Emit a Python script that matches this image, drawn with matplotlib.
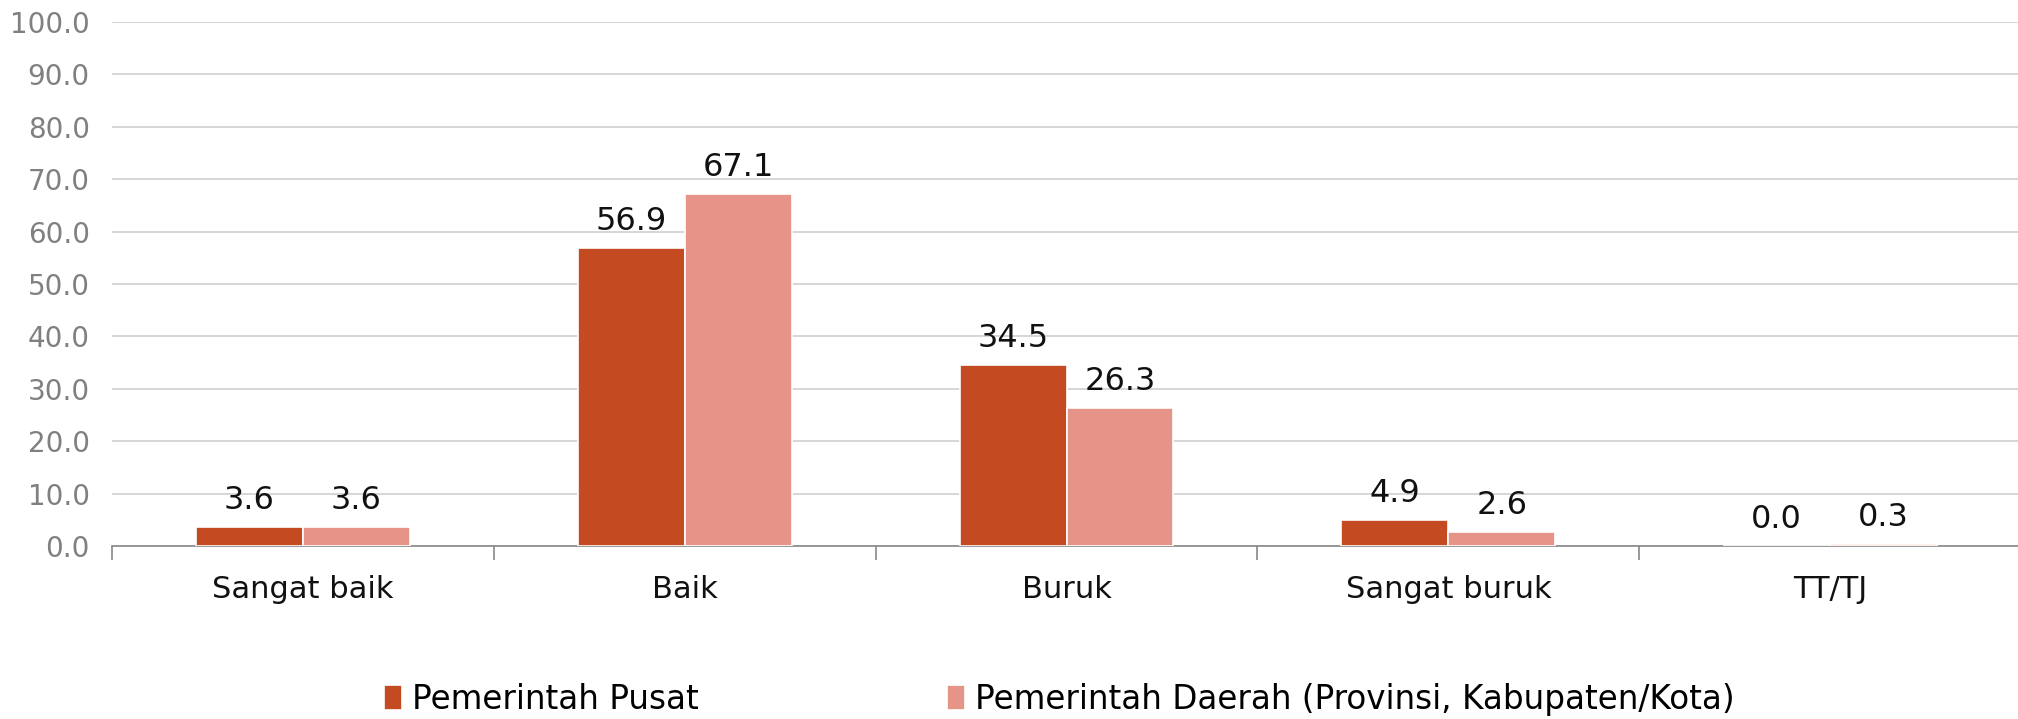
import matplotlib
matplotlib.use("Agg")
import matplotlib.pyplot as plt
import numpy as np

categories = ["Sangat baik", "Baik", "Buruk", "Sangat buruk", "TT/TJ"]
pusat = [3.6, 56.9, 34.5, 4.9, 0.0]
daerah = [3.6, 67.1, 26.3, 2.6, 0.3]
series_names = ["Pemerintah Pusat", "Pemerintah Daerah (Provinsi, Kabupaten/Kota)"]
y_ticks = [0, 10, 20, 30, 40, 50, 60, 70, 80, 90, 100]

plt.rcParams["font.family"] = ["DejaVu Sans"]

fig = plt.figure(figsize=(20.18, 7.19), dpi=100)
ax = fig.add_axes([0.0555, 0.2406, 0.946, 0.7288])

x = np.arange(len(categories))
w = 0.28
c1, c2 = "#C44A22", "#E69487"
b1 = ax.bar(x - w / 2, pusat, w, color=c1, edgecolor="white", linewidth=1.2, label=series_names[0], zorder=3)
b2 = ax.bar(x + w / 2, daerah, w, color=c2, edgecolor="white", linewidth=1.2, label=series_names[1], zorder=3)

for bars, vals in ((b1, pusat), (b2, daerah)):
    for r, v in zip(bars, vals):
        ax.annotate(f"{v:.1f}", (r.get_x() + r.get_width() / 2, v),
                    xytext=(0, 8), textcoords="offset points",
                    ha="center", va="bottom", fontsize=23, color="#111111")

ax.set_xlim(-0.5, len(categories) - 0.5)
ax.set_ylim(0, 100)
ax.set_yticks(y_ticks)
ax.set_yticklabels([f"{t:.1f}" for t in y_ticks], fontsize=20, color="#808080")
ax.yaxis.grid(True, color="#D0D0D0", linewidth=1.2, zorder=0)
ax.tick_params(axis="y", length=0, pad=16)

ax.set_xticks(x)
ax.set_xticklabels(categories, fontsize=22, color="#111111")
ax.set_xticks(np.arange(-0.5, len(categories)), minor=True)
ax.tick_params(axis="x", which="major", length=0, pad=21)
ax.tick_params(axis="x", which="minor", length=10, width=1.2, color="#888888")

for s in ("top", "right", "left"):
    ax.spines[s].set_visible(False)
ax.spines["bottom"].set_color("#888888")
ax.spines["bottom"].set_linewidth(1.2)

leg = fig.legend(handles=[b1, b2], labels=series_names, loc="center",
                 bbox_to_anchor=(0.525, 0.027), ncol=2, frameon=False,
                 fontsize=23.5, handlelength=0.55, handleheight=0.8,
                 handletextpad=0.3, columnspacing=7.6)

fig.savefig("out.png", dpi=100)
